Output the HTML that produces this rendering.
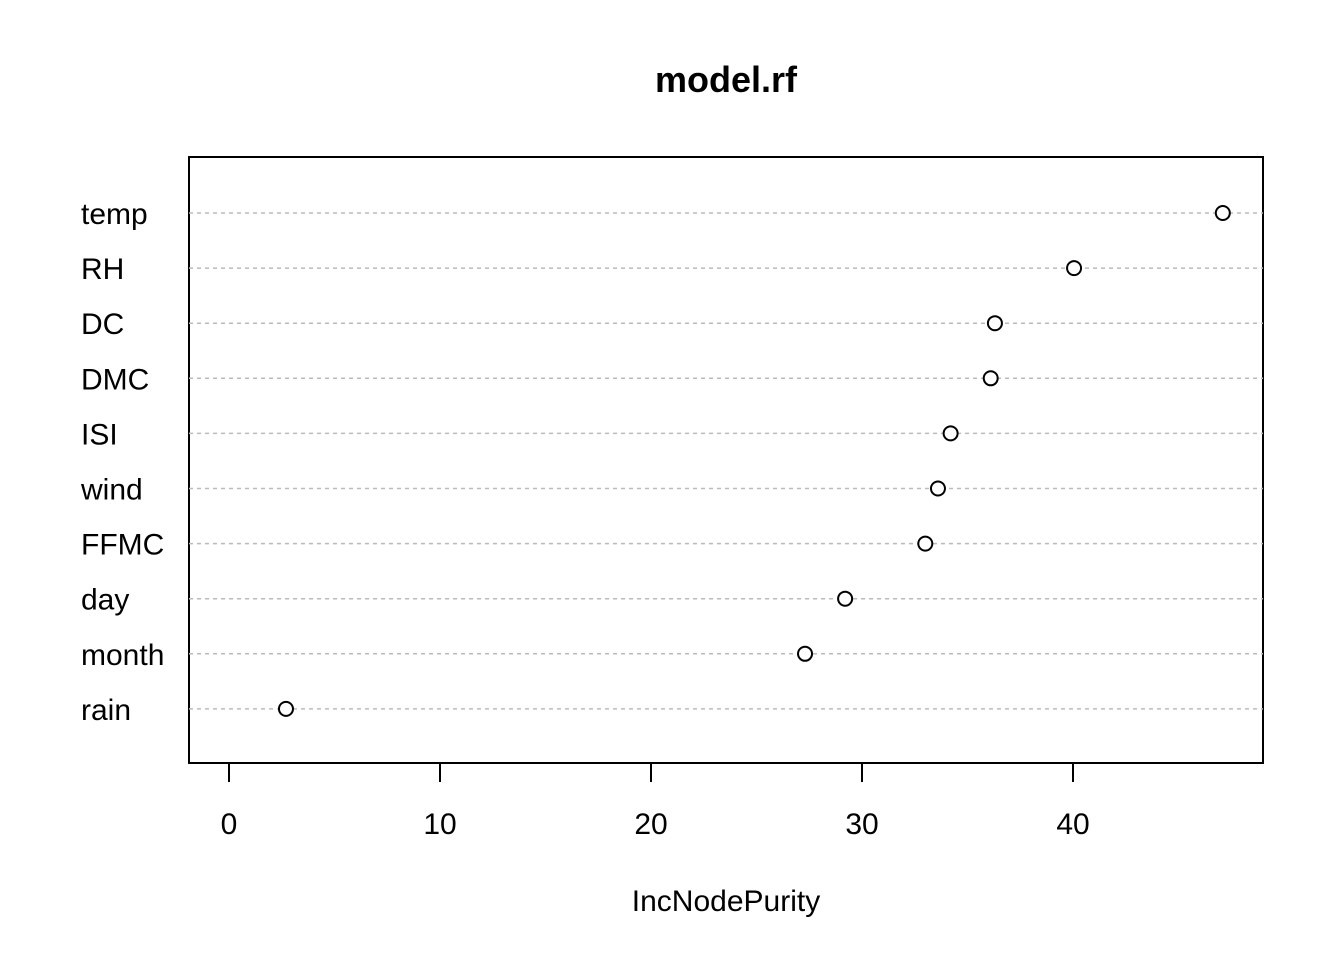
<!DOCTYPE html>
<html><head><meta charset="utf-8"><style>
body{margin:0;background:#fff}
svg{display:block;font-family:"Liberation Sans",Arial,sans-serif}
</style></head><body>
<svg id="chart" width="1344" height="960" viewBox="0 0 1344 960">
<text x="726" y="92" text-anchor="middle" font-size="36" font-weight="bold">model.rf</text>
<rect x="189" y="157" width="1074" height="606" fill="none" stroke="#000" stroke-width="2"/>
<g id="rows"></g>
<g id="xaxis"></g>
<text x="726" y="911" text-anchor="middle" font-size="30">IncNodePurity</text>
</svg>
<script>
const categories=["temp","RH","DC","DMC","ISI","wind","FFMC","day","month","rain"];
const values=[47.1,40.05,36.3,36.1,34.2,33.6,33.0,29.2,27.3,2.7];
const ticks=[0,10,20,30,40];
const NS="http://www.w3.org/2000/svg";
const xs=v=>229+v*21.1;
const ys=i=>213+i*55.1;
const rows=document.getElementById('rows');
function mk(tag,attrs,parent){const e=document.createElementNS(NS,tag);for(const k in attrs)e.setAttribute(k,attrs[k]);parent.appendChild(e);return e;}
categories.forEach((c,i)=>{
  const y=ys(i);
  const l=mk('line',{x1:189,x2:1263,y1:y,y2:y,stroke:'#bbb','stroke-width':1.5,'stroke-dasharray':'4 4'},rows);
  
  
  const t=mk('text',{x:81,y:y+11,'font-size':30},rows);t.textContent=c;
  
  
  const p=mk('circle',{cx:xs(values[i]),cy:y,r:7,fill:'#fff',stroke:'#000','stroke-width':2},rows);
  
  
});
const xa=document.getElementById('xaxis');


mk('line',{x1:xs(ticks[0]),x2:xs(ticks[ticks.length-1]),y1:763,y2:763,stroke:'#000','stroke-width':2},xa);
ticks.forEach(v=>{
  const tk=mk('line',{x1:xs(v),x2:xs(v),y1:763,y2:782,stroke:'#000','stroke-width':2},xa);
  
  
  const t=mk('text',{x:xs(v),y:834,'text-anchor':'middle','font-size':30},xa);t.textContent=v;
  
  
});
</script>
</body></html>
